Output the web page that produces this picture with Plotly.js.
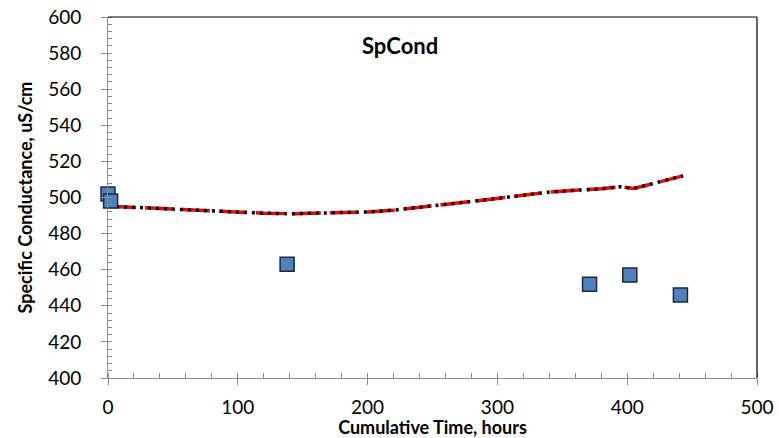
<!DOCTYPE html>
<html>
<head>
<meta charset="utf-8">
<script src="https://cdn.plot.ly/plotly-3.0.1.min.js"></script>
<style>html,body{margin:0;padding:0;background:#fff;}#chart{width:779px;height:438px;}</style>
</head>
<body>
<div id="chart"></div>
<script>
// Continuous sensor trace (hours, uS/cm)
var traceHours = [0, 20, 40, 60, 80, 100, 120, 140, 160, 180, 200, 220, 240, 260, 280, 300, 320, 340, 360, 380, 395, 405, 415, 425, 435, 443];
var traceSpCond = [495.2, 494.5, 494.0, 493.4, 492.6, 491.9, 491.3, 491.0, 491.2, 491.5, 492.0, 493.0, 494.5, 496.0, 497.8, 499.5, 501.3, 503.0, 504.0, 504.8, 506.0, 505.0, 506.8, 508.8, 510.5, 512.0];
// Grab sample measurements
var sampleHours = [0, 2, 138, 371, 402, 441];
var sampleSpCond = [502, 498, 463, 452, 457, 446];

var font = "Lato, 'Open Sans', sans-serif";

var data = [
  {x: traceHours, y: traceSpCond, type: 'scatter', mode: 'lines',
   line: {color: '#ff0000', width: 3.5, dash: '28px,9px'}, hoverinfo: 'skip'},
  {x: traceHours, y: traceSpCond, type: 'scatter', mode: 'lines',
   line: {color: '#000000', width: 3.5, dash: '3px,5px'}, hoverinfo: 'skip'},
  {x: sampleHours, y: sampleSpCond, type: 'scatter', mode: 'markers', cliponaxis: false,
   marker: {symbol: 'square', size: 14, color: '#4f81bd', line: {color: '#1a2a3a', width: 1.5}}}
];

var layout = {
  width: 779, height: 438,
  margin: {l: 108, r: 22, t: 17, b: 60},
  paper_bgcolor: '#ffffff', plot_bgcolor: '#ffffff',
  showlegend: false,
  font: {family: font, color: '#000'},
  xaxis: {
    range: [0, 500], dtick: 100, tick0: 0,
    showgrid: false, zeroline: false,
    showline: true, linecolor: '#8c8c8c', linewidth: 1,
    ticks: 'outside', ticklen: 6, tickcolor: '#8c8c8c',
    ticklabelstandoff: 6,
    minor: {dtick: 20, ticks: 'inside', ticklen: 5, tickcolor: '#8c8c8c'},
    tickfont: {size: 19, family: font, color: '#000'},
    title: {text: '<b>Cumulative Time, hours</b>', font: {size: 18, family: font, color: '#000'}, standoff: 0}
  },
  yaxis: {
    range: [400, 600], dtick: 20, tick0: 400,
    showgrid: false, zeroline: false,
    showline: true, linecolor: '#8c8c8c', linewidth: 1,
    ticks: 'outside', ticklen: 6, tickcolor: '#8c8c8c',
    ticklabelstandoff: 16,
    minor: {dtick: 4, ticks: 'inside', ticklen: 4, tickcolor: '#8c8c8c'},
    tickfont: {size: 19, family: font, color: '#000'},
    title: {text: '<b>Specific Conductance, uS/cm</b>', font: {size: 18, family: font, color: '#000'}, standoff: 10}
  },
  shapes: [
    {type: 'line', xref: 'paper', yref: 'paper', x0: 0, x1: 1, y0: 1, y1: 1, line: {color: '#000', width: 1.2}},
    {type: 'line', xref: 'paper', yref: 'paper', x0: 1, x1: 1, y0: 0, y1: 1, line: {color: '#000', width: 1.2}}
  ],
  annotations: [
    {text: '<b>SpCond</b>', xref: 'paper', yref: 'paper', x: 0.45, y: 0.92, xanchor: 'center', yanchor: 'middle',
     showarrow: false, font: {size: 22, family: font, color: '#000'}}
  ]
};

Plotly.newPlot('chart', data, layout, {displayModeBar: false, staticPlot: true});
</script>
</body>
</html>
